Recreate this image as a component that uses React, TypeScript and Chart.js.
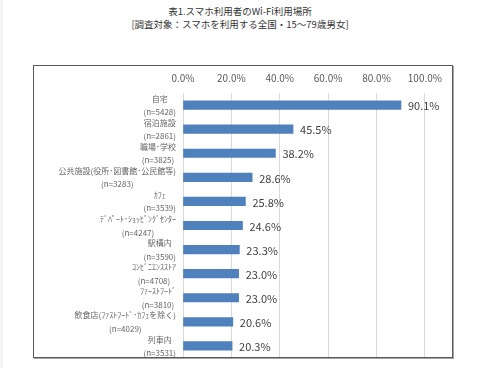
import React, { useEffect, useRef } from "react";
import { Chart, registerables } from "chart.js";

Chart.register(...registerables);

const TITLE_LINE1 = "表1.スマホ利用者のWi-Fi利用場所";
const TITLE_LINE2 = "[調査対象：スマホを利用する全国・15～79歳男女]";

const categories = [
  "自宅",
  "宿泊施設",
  "職場･学校",
  "公共施設(役所･図書館･公民館等)",
  "ｶﾌｪ",
  "ﾃﾞﾊﾟｰﾄ･ｼｮｯﾋﾟﾝｸﾞｾﾝﾀｰ",
  "駅構内",
  "ｺﾝﾋﾞﾆｴﾝｽｽﾄｱ",
  "ﾌｧｰｽﾄﾌｰﾄﾞ",
  "飲食店(ﾌｧｽﾄﾌｰﾄﾞ･ｶﾌｪを除く)",
  "列車内",
];
const sampleSizes = ["(n=5428)", "(n=2861)", "(n=3825)", "(n=3283)", "(n=3539)", "(n=4247)", "(n=3590)", "(n=4708)", "(n=3810)", "(n=4029)", "(n=3531)"];
const values = [90.1, 45.5, 38.2, 28.6, 25.8, 24.6, 23.3, 23.0, 23.0, 20.6, 20.3];
const xTicks = [0, 20, 40, 60, 80, 100];

const FONT = '"Noto Sans CJK JP", "Noto Sans", sans-serif';

export default function App() {
  const ref = useRef<HTMLCanvasElement | null>(null);

  useEffect(() => {
    if (!ref.current) return;
    const labelPlugin = {
      id: "catLabels",
      afterDraw(chart: any) {
        const ctx = chart.ctx;
        const ys = chart.scales.y;
        const right = 142;
        ctx.save();
        ctx.font = `8px ${FONT}`;
        ctx.fillStyle = "#666666";
        ctx.textAlign = "center";
        ctx.textBaseline = "middle";
        categories.forEach((c, i) => {
          const y = ys.getPixelForValue(i);
          const lines = [c, sampleSizes[i]];
          const w = Math.max(...lines.map((l) => ctx.measureText(l).width));
          const cx = right - w / 2;
          ctx.fillText(lines[0], cx, y - 6.5);
          ctx.fillText(lines[1], cx, y + 7);
        });
        ctx.restore();
      },
    };
    const valuePlugin = {
      id: "valueLabels",
      afterDatasetsDraw(chart: any) {
        const ctx = chart.ctx;
        const meta = chart.getDatasetMeta(0);
        ctx.save();
        ctx.font = `11px ${FONT}`;
        ctx.fillStyle = "#404040";
        ctx.textAlign = "left";
        ctx.textBaseline = "middle";
        meta.data.forEach((el: any, i: number) => {
          ctx.fillText(values[i].toFixed(1) + "%", el.x + 7, el.y + 1);
        });
        ctx.restore();
      },
    };
    const chart = new Chart(ref.current, {
      type: "bar",
      data: {
        labels: categories,
        datasets: [
          {
            data: values,
            backgroundColor: "#4f81bd",
            borderWidth: 0,
            barThickness: 8.5,
          },
        ],
      },
      options: {
        indexAxis: "y",
        animation: false,
        responsive: false,
        maintainAspectRatio: false,
        layout: { padding: { left: 0, right: 22, top: 0, bottom: 0 } },
        plugins: {
          legend: { display: false },
          tooltip: { enabled: false },
          title: { display: false },
        },
        scales: {
          x: {
            position: "top",
            min: 0,
            max: 100,
            afterBuildTicks(scale: any) {
              scale.ticks = xTicks.map((v) => ({ value: v }));
            },
            afterFit(scale: any) {
              scale.height = 27;
            },
            ticks: {
              callback: (v: any) => Number(v).toFixed(1) + "%",
              font: { size: 10, family: FONT },
              color: "#595959",
              padding: 9,
              maxRotation: 0,
            },
            grid: { color: "#d9d9d9", drawTicks: false, lineWidth: 1 },
            border: { display: false },
          },
          y: {
            afterFit(scale: any) {
              scale.width = 149;
            },
            ticks: { display: false },
            grid: { display: false },
            border: { display: false },
          },
        },
      },
      plugins: [labelPlugin, valuePlugin],
    } as any);
    return () => chart.destroy();
  }, []);

  return (
    <div style={{ position: "fixed", left: 0, top: 0, width: 480, height: 368, background: "#fff", overflow: "hidden" }}>
      <div style={{ position: "absolute", left: 0, top: 0, width: 3, height: 368, background: "#f4f4f4" }} />
      <div
        style={{
          position: "absolute",
          left: 0,
          top: 5,
          width: 480,
          textAlign: "center",
          fontFamily: FONT,
          fontSize: 9.5,
          lineHeight: "13px",
          color: "#333333",
        }}
      >
        <div>{TITLE_LINE1}</div>
        <div>{TITLE_LINE2}</div>
      </div>
      <canvas ref={ref} width={417} height={292} style={{ position: "absolute", left: 34, top: 66, width: 417, height: 292 }} />
      <div
        style={{
          position: "absolute",
          left: 33,
          top: 65,
          width: 420,
          height: 293,
          boxSizing: "border-box",
          border: "1px solid #595959",
          boxShadow: "1px 1px 0 #a6a6a6",
          pointerEvents: "none",
        }}
      />
    </div>
  );
}
